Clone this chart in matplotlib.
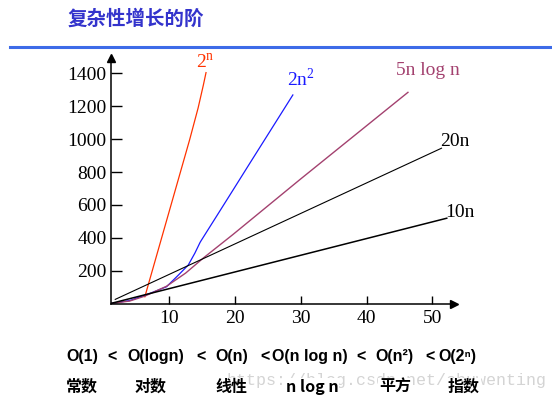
import numpy as np
import matplotlib
matplotlib.use('Agg')
import matplotlib.pyplot as plt
from matplotlib.lines import Line2D

plt.rcParams['mathtext.fontset'] = 'custom'
plt.rcParams['mathtext.rm'] = 'Liberation Serif'

# 曲線資料 (從圖上讀出的點)
exp_n = [6.3, 13.1, 14.4, 15.2, 15.6]
exp_y = [41, 995, 1190, 1330, 1405]

sq_n = [1.1, 4.0, 7.1, 9.6, 11.4, 12.9, 13.9, 14.7, 14.85, 17.2, 19.7, 22.3, 24.6, 28.8]
sq_y = [0, 18, 62, 102, 173, 234, 306, 372, 382, 531, 690, 856, 1002, 1269]

nlog_n = [1.1, 4.0, 6.3, 9.6, 12.5, 15.2, 19.7, 29.9, 46.3]
nlog_y = [0, 15, 45, 105, 185, 277, 420, 755, 1285]

n20_n = [1.8, 51.4]
n20_y = [25, 945]

n10_n = [1.1, 52.2]
n10_y = [0, 519]

yticks = [200, 400, 600, 800, 1000, 1200, 1400]
xticks = [10, 20, 30, 40, 50]

row1 = ["O(1)", "<", "O(logn)", "<", "O(n)", "<", "O(n log n)", "<", "O(n²)", "<", "O(2ⁿ)"]
row2 = ["常数", "对数", "线性", "n log n", "平方", "指数"]

W, H = 552, 396
fig = plt.figure(figsize=(W / 100, H / 100), dpi=100)

def fx(px):
    return px / W

def fy(py):
    return 1 - py / H

# 標題與藍色橫線
fig.text(fx(67), fy(19), "复杂性增长的阶", family=['Noto Sans CJK SC', 'DejaVu Sans'],
         fontweight='bold', fontsize=14, color='#3333cc', va='center', ha='left')
fig.add_artist(Line2D([fx(10), 1.0], [fy(47), fy(47)], lw=2.2, color='#3d6be8'))

ax = fig.add_axes([fx(110.7), fy(303.5), fx(454) - fx(110.7), fy(58) - fy(303.5)])
ax.set_xlim(1.11, 53.3)
ax.set_ylim(0, 1494)

ax.plot(exp_n, exp_y, color='#ff3300', lw=0.9)
ax.plot(sq_n, sq_y, color='#1a1aff', lw=0.9)
ax.plot(nlog_n, nlog_y, color='#a3416f', lw=1.0)
ax.plot(n20_n, n20_y, color='black', lw=0.8)
ax.plot(n10_n, n10_y, color='black', lw=1.1)

serif = 'Liberation Serif'
ax.text(15.44, 1464, r"2$^{\mathrm{n}}$", color='#ff3300', family=serif, fontsize=14, ha='center', va='center')
ax.text(30.0, 1366, r"2n$^{\mathrm{2}}$", color='#1a1aff', family=serif, fontsize=14, ha='center', va='center')
ax.text(49.3, 1415, "5n log n", color='#a3416f', family=serif, fontsize=14, ha='center', va='center')
ax.text(51.15, 983, "20n", color='black', family=serif, fontsize=14, ha='left', va='center')
ax.text(51.9, 551, "10n", color='black', family=serif, fontsize=14, ha='left', va='center')

for s in ['top', 'right']:
    ax.spines[s].set_visible(False)
for s in ['left', 'bottom']:
    ax.spines[s].set_linewidth(1.1)
ax.plot(1, 0, '>k', ms=6, transform=ax.transAxes, clip_on=False)
ax.plot(0, 1, '^k', ms=6, transform=ax.transAxes, clip_on=False)

ax.set_xticks(xticks)
ax.set_yticks(yticks)
ax.tick_params(axis='y', direction='in', length=8, width=1, pad=3)
ax.tick_params(axis='x', direction='in', length=6, width=1, pad=5)
for lab in ax.get_xticklabels() + ax.get_yticklabels():
    lab.set_family(serif)
    lab.set_fontsize(14)

# 浮水印
fig.text(fx(226), fy(381), "https://blog.csdn.net/shuwenting", family='Liberation Mono',
         fontsize=12, color='#d4d4d4', va='center', ha='left', zorder=1)

# 下方文字
row1_x = [66, 107, 127, 196, 215, 260, 272, 356, 375, 425, 438]
for t, x in zip(row1, row1_x):
    fig.text(fx(x), fy(357), t, family='Liberation Sans', fontweight='bold',
             fontsize=11.5, va='center', ha='left')

row2_x = [66, 135, 215, 286, 379, 448]
for t, x in zip(row2, row2_x):
    fig.text(fx(x), fy(387), t, family=['Noto Sans CJK SC', 'Liberation Sans'], fontweight='bold',
             fontsize=11.5, va='center', ha='left', zorder=5,
             bbox=dict(facecolor='white', edgecolor='none', pad=0.5))

fig.savefig('out.png', dpi=100)
